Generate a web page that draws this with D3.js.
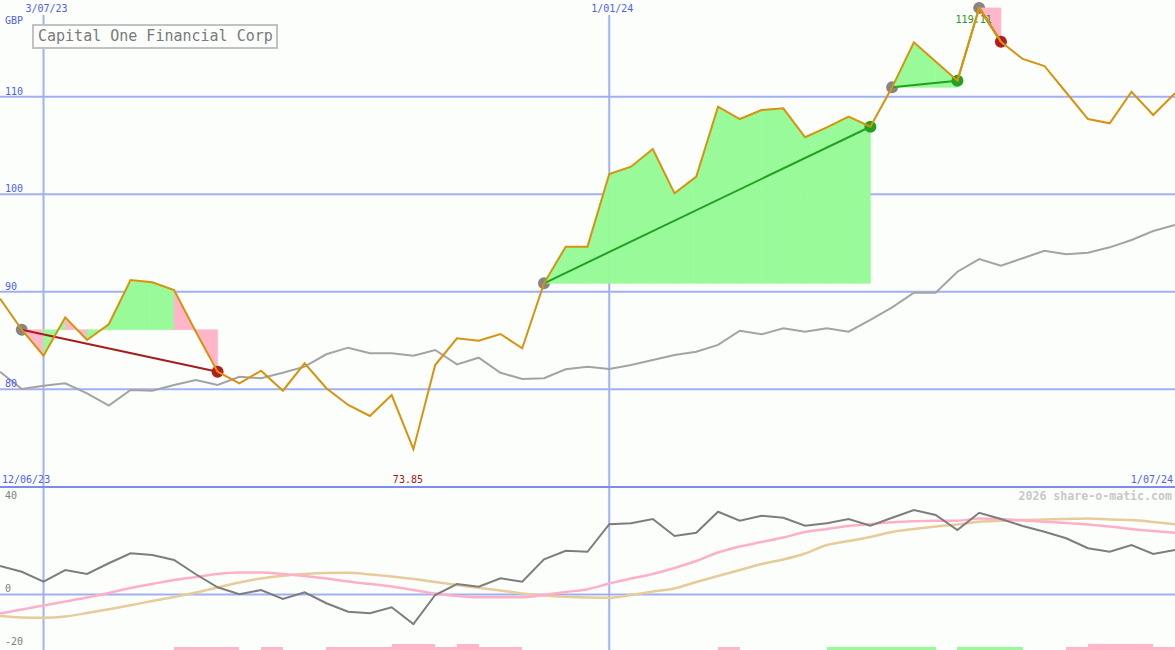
<!DOCTYPE html>
<html>
<head>
<meta charset="utf-8">
<script src="https://cdn.jsdelivr.net/npm/d3@7"></script>
<style>
html,body{margin:0;padding:0;background:#fbfefb;}
svg{display:block;}
text{font-family:"DejaVu Sans Mono","Liberation Mono",monospace;}
</style>
</head>
<body>
<svg id="chart" width="1175" height="650"></svg>
<script>
// ---------------- data ----------------
const title = "Capital One Financial Corp";
const currency = "GBP";
const dates = ["2023-06-19","2023-06-26","2023-07-03","2023-07-10","2023-07-17","2023-07-24","2023-07-31",
"2023-08-07","2023-08-14","2023-08-21","2023-08-28","2023-09-04","2023-09-11","2023-09-18","2023-09-25",
"2023-10-02","2023-10-09","2023-10-16","2023-10-23","2023-10-30","2023-11-06","2023-11-13","2023-11-20",
"2023-11-27","2023-12-04","2023-12-11","2023-12-18","2023-12-25","2024-01-01","2024-01-08","2024-01-15",
"2024-01-22","2024-01-29","2024-02-05","2024-02-12","2024-02-19","2024-02-26","2024-03-04","2024-03-11",
"2024-03-18","2024-03-25","2024-04-01","2024-04-08","2024-04-15","2024-04-22","2024-04-29","2024-05-06",
"2024-05-13","2024-05-20","2024-05-27","2024-06-03","2024-06-10","2024-06-17","2024-06-24","2024-07-01"];
const price = [89.3,86.1,83.44,87.37,85.05,86.66,91.2,90.96,90.17,85.9,81.8,80.6,81.9,79.85,82.66,80.1,
78.38,77.25,79.4,73.85,82.48,85.22,84.97,85.66,84.2,90.86,94.62,94.62,102.07,102.82,104.64,100.09,101.8,
108.97,107.71,108.64,108.81,105.84,106.86,107.95,106.92,110.96,115.58,113.6,111.64,119.11,115.64,113.87,
113.15,110.43,107.71,107.27,110.51,108.12,110.35];
const indexLine = [81.79,80.02,80.36,80.6,79.58,78.31,79.92,79.85,80.43,80.94,80.43,81.28,81.12,81.69,
82.31,83.58,84.26,83.68,83.68,83.44,84.02,82.55,83.23,81.69,81.05,81.12,82.04,82.31,82.07,82.48,83.0,
83.51,83.85,84.54,86.0,85.63,86.25,85.9,86.25,85.9,87.1,88.4,89.9,89.9,92.05,93.35,92.67,93.43,94.2,
93.84,94.0,94.55,95.3,96.23,96.84];
const momentum = [11.4,9.1,5.1,9.8,8.2,12.5,16.5,15.8,13.8,8.1,2.9,0.1,1.8,-1.8,0.9,-3.5,-6.9,-7.5,-5.1,
-11.8,-0.2,4.2,3.1,6.5,5.1,14.1,17.5,17.1,28.1,28.5,30.2,23.4,24.7,33.1,29.5,31.5,30.7,27.5,28.5,30.2,
27.5,30.7,33.8,31.8,25.8,32.7,30.2,27.4,25.1,22.5,18.5,17.1,19.8,16.2,17.8];
const signalFast = [-7.6,-6.0,-4.4,-2.8,-1.2,0.6,2.6,4.2,5.8,7.0,8.2,8.8,8.8,8.2,7.4,6.4,5.2,4.2,3.2,1.8,
0.4,-0.6,-1.1,-1.1,-1.1,-0.2,1.0,2.1,4.4,6.4,8.2,10.6,13.4,16.8,19.2,21.0,22.8,25.0,26.2,27.4,28.2,28.9,
29.3,29.5,29.5,30.4,30.2,29.6,29.1,28.6,28.0,27.2,26.2,25.4,24.7];
const signalSlow = [-8.6,-9.2,-9.3,-8.8,-7.4,-5.9,-4.3,-2.6,-1.0,0.8,2.8,4.8,6.4,7.5,8.2,8.6,8.7,8.0,7.2,
6.2,5.0,3.8,2.7,1.6,0.4,-0.4,-0.9,-1.2,-1.3,-0.2,1.2,2.4,5.0,7.4,9.8,12.2,14.0,16.4,19.8,21.4,23.0,25.0,
26.2,27.2,28.0,29.1,29.5,29.8,30.0,30.2,30.4,30.0,29.8,29.0,28.1];
// per-week signal bars (start index = segment), -2/-1 pink, +1 green
const barSignal = [0,0,0,0,0,0,0,0,-1,-1,-1,0,-1,0,0,-1,-1,-1,-2,-2,-1,-2,-1,-1,
0,0,0,0,0,0,0,0,0,-1,0,0,0,0,1,1,1,1,1,0,1,1,1,0,0,-1,-2,-2,-2,-1];
const tradeBuy = [1,25,41,45];
const tradeSell = [10,40,44,46];
const priceTicks = [80,90,100,110];
const lowerTicks = [40,0,-20];
const dateGrid = ["2023-07-03","2024-01-01"];
const dateGridLabels = ["3/07/23","1/01/24"];
const rangeStartLabel = "12/06/23";
const rangeEndLabel = "1/07/24";
const credit = "2026 share-o-matic.com";

// ---------------- scales ----------------
const W = 1175, H = 650;
const parse = d3.timeParse("%Y-%m-%d");
const dts = dates.map(parse);
const x = d3.scaleTime().domain([dts[0], dts[dts.length-1]]).range([0, W]);
const y = d3.scaleLinear().domain([80,110]).range([389.2, 96.7]);
const yL = d3.scaleLinear().domain([-20,40]).range([644.5, 494.5]);
const yBar = d3.scaleLinear().domain([0,2]).range([650, 643.5]);

const svg = d3.select("#chart");
const gridCol = "#a2b0f2";
svg.append("rect").attr("width",W).attr("height",H).attr("fill","#fbfefb");

// gridlines
svg.selectAll(".hg").data(priceTicks).enter().append("line")
  .attr("x1",0).attr("x2",W).attr("y1",d=>y(d)).attr("y2",d=>y(d))
  .attr("stroke",gridCol).attr("stroke-width",2);
svg.selectAll(".vg").data(dateGrid).enter().append("line")
  .attr("x1",d=>x(parse(d))).attr("x2",d=>x(parse(d))).attr("y1",15).attr("y2",H)
  .attr("stroke",gridCol).attr("stroke-width",2);
svg.append("line").attr("x1",0).attr("x2",W).attr("y1",yL(0)).attr("y2",yL(0))
  .attr("stroke",gridCol).attr("stroke-width",2);
svg.append("line").attr("x1",0).attr("x2",W).attr("y1",487).attr("y2",487)
  .attr("stroke","#7b8bef").attr("stroke-width",2);

const idx = d3.range(price.length);
const X = i => x(dts[i]);

// index comparison line
svg.append("path").datum(idx)
  .attr("d", d3.line().x(X).y(i=>y(indexLine[i])))
  .attr("fill","none").attr("stroke","#a3a3a3").attr("stroke-width",2);

// buy markers
svg.selectAll(".buy").data(tradeBuy).enter().append("circle")
  .attr("cx",X).attr("cy",i=>y(price[i])).attr("r",6).attr("fill","#858585");

// trade fills: per segment, between price and entry level
const area = d3.area().x(d=>d.x).y0(d=>d.y0).y1(d=>d.y1);
tradeBuy.forEach((b,t)=>{
  const s = tradeSell[t];
  const level = price[b];
  for(let i=b;i<s;i++){
    const pts = [i,i+1].map(k=>({x:X(k), y0:y(level), y1:y(price[k])}));
    const col = price[i+1] > level ? "#98fa98" : "#ffb6c8";
    svg.append("path").attr("d",area(pts))
      .attr("fill", col).attr("stroke", col).attr("stroke-width",0.6);
  }
});

// trade lines
tradeBuy.forEach((b,t)=>{
  const s = tradeSell[t];
  const win = price[s] > price[b];
  svg.append("path").datum([b,s])
    .attr("d", d3.line().x(X).y(i=>y(price[i])))
    .attr("stroke", win ? "#22a022" : "#a81c1c").attr("stroke-width",2).attr("fill","none");
});

// sell markers
svg.selectAll(".sell").data(tradeSell).enter().append("circle")
  .attr("cx",X).attr("cy",i=>y(price[i])).attr("r",6)
  .attr("fill",(s,t)=> price[s] > price[tradeBuy[t]] ? "#22a022" : "#b01e1e");

// price line
svg.append("path").datum(idx)
  .attr("d", d3.line().x(X).y(i=>y(price[i])))
  .attr("fill","none").attr("stroke","#d9920c").attr("stroke-width",2).attr("stroke-linejoin","miter");

// lower panel
svg.append("path").datum(idx)
  .attr("d", d3.line().curve(d3.curveMonotoneX).x(X).y(i=>yL(signalSlow[i])))
  .attr("fill","none").attr("stroke","#e6cc98").attr("stroke-width",2.5);
svg.append("path").datum(idx)
  .attr("d", d3.line().curve(d3.curveMonotoneX).x(X).y(i=>yL(signalFast[i])))
  .attr("fill","none").attr("stroke","#ffb0c8").attr("stroke-width",2.5);
svg.append("path").datum(idx)
  .attr("d", d3.line().x(X).y(i=>yL(momentum[i])))
  .attr("fill","none").attr("stroke","#7d7d7d").attr("stroke-width",2);

// signal bars
svg.selectAll(".bar").data(barSignal.map((v,i)=>({v,i})).filter(d=>d.v!==0)).enter().append("rect")
  .attr("x",d=>X(d.i)).attr("width",d=>X(d.i+1)-X(d.i))
  .attr("y",d=>yBar(Math.abs(d.v))).attr("height",d=>650-yBar(Math.abs(d.v)))
  .attr("fill",d=>d.v>0 ? "#98fa98" : "#ffb6c8").attr("shape-rendering","crispEdges");

// ---------------- text ----------------
const blue = "#4f5ff0";
svg.append("text").attr("x",5).attr("y",24).attr("font-size",10).attr("fill",blue).text(currency);
svg.selectAll(".pt").data(priceTicks).enter().append("text")
  .attr("x",5).attr("y",d=>y(d)-2).attr("font-size",10).attr("fill",blue).text(d=>d);
svg.selectAll(".dl").data(dateGrid).enter().append("text")
  .attr("x",d=>x(parse(d))+3).attr("y",12).attr("text-anchor","middle")
  .attr("font-size",10).attr("fill",blue).text((d,i)=>dateGridLabels[i]);
svg.append("text").attr("x",2).attr("y",483).attr("font-size",10).attr("fill",blue).text(rangeStartLabel);
svg.append("text").attr("x",1173).attr("y",483).attr("text-anchor","end").attr("font-size",10).attr("fill",blue).text(rangeEndLabel);

const fmt = d3.format(".2f");
const iMax = d3.maxIndex(price), iMin = d3.minIndex(price);
svg.append("text").attr("x",X(iMax)-5.5).attr("y",y(price[iMax])+15).attr("text-anchor","middle")
  .attr("font-size",10).attr("fill","#229922").text(fmt(price[iMax]));
svg.append("text").attr("x",X(iMin)-5.5).attr("y",483).attr("text-anchor","middle")
  .attr("font-size",10).attr("fill","#a01818").text(fmt(price[iMin]));

// redraw price line segment over max label (label sits beneath line)
svg.append("path").datum([iMax-1,iMax,iMax+1])
  .attr("d", d3.line().x(X).y(i=>y(price[i])))
  .attr("fill","none").attr("stroke","#d9920c").attr("stroke-width",2);

const lowOff = {"40":4.5,"0":-2.5,"-20":0.5};
svg.selectAll(".lt").data(lowerTicks).enter().append("text")
  .attr("x",5).attr("y",d=>yL(d)+lowOff[String(d)]).attr("font-size",10).attr("fill","#808080").text(d=>d);

svg.append("text").attr("x",1172).attr("y",500).attr("text-anchor","end")
  .attr("font-size",11.6).attr("font-weight","bold").attr("fill","#c8c8c8").text(credit);

// title box
svg.append("rect").attr("x",33).attr("y",25).attr("width",244).attr("height",23)
  .attr("fill","#fbfefb").attr("stroke","#c2c2c2").attr("stroke-width",2);
svg.append("text").attr("x",38).attr("y",41).attr("font-size",15).attr("fill","#7a7a7a").text(title);
</script>
</body>
</html>
